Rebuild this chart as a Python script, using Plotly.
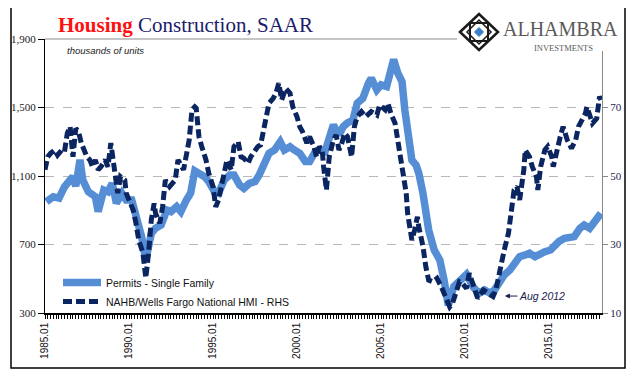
import plotly.graph_objects as go

# ---------------- data ----------------
permit_dates = [
    "1985-02", "1985-07", "1985-11", "1986-03", "1986-07", "1986-09", "1986-11", "1987-02",
    "1987-04", "1987-08", "1988-01", "1988-03", "1988-07", "1988-10", "1989-01", "1989-04",
    "1989-08", "1989-11", "1990-03", "1990-07", "1990-10", "1991-01", "1991-05", "1991-08",
    "1991-12", "1992-04", "1992-07", "1992-11", "1993-02", "1993-06", "1993-09", "1993-12",
    "1994-03", "1994-07", "1994-10", "1995-02", "1995-05", "1995-09", "1996-01", "1996-04",
    "1996-08", "1996-11", "1997-03", "1997-07", "1997-10", "1998-02", "1998-05", "1998-09",
    "1999-01", "1999-04", "1999-08", "1999-11", "2000-03", "2000-07", "2000-10", "2001-02",
    "2001-05", "2001-09", "2002-01", "2002-03", "2002-07", "2002-10", "2003-01", "2003-05",
    "2003-08", "2003-12", "2004-04", "2004-06", "2004-10", "2005-01", "2005-05", "2005-07",
    "2005-10", "2006-01", "2006-04", "2006-06", "2006-08", "2006-11", "2007-02", "2007-04",
    "2007-07", "2007-09", "2007-11", "2008-03", "2008-07", "2008-10", "2009-01", "2009-05",
    "2009-10", "2010-02", "2010-07", "2010-11", "2011-03", "2011-07", "2011-10", "2012-02",
    "2012-05", "2012-09", "2013-01", "2013-04", "2013-08", "2013-11", "2014-03", "2014-07",
    "2014-10", "2015-02", "2015-05", "2015-08", "2015-12", "2016-04", "2016-07", "2016-11",
    "2017-02", "2017-06", "2017-09", "2018-01", "2018-02",
]
permit_values = [
    950, 979, 971, 1037, 1077, 1096, 1040, 1195,
    1077, 1008, 979, 892, 1018, 1008, 1057, 941,
    999, 960, 960, 843, 746, 610, 765, 795,
    814, 901, 892, 921, 892, 960, 1000, 1130,
    1116, 1096, 1067, 1008, 999, 1077, 1106, 1106,
    1047, 1028, 1057, 1067, 1106, 1174, 1232, 1252,
    1300, 1252, 1271, 1252, 1232, 1184, 1184, 1242,
    1252, 1242, 1349, 1398, 1340, 1388, 1410, 1427,
    1525, 1554, 1641, 1671, 1603, 1632, 1622, 1700,
    1780, 1700, 1651, 1486, 1330, 1193, 1164, 1116,
    999, 882, 785, 668, 609, 493, 345, 454,
    500, 525, 450, 415, 434, 415, 434, 493,
    522, 551, 590, 629, 639, 649, 629, 649,
    658, 668, 697, 717, 736, 746, 746, 795,
    814, 795, 824, 872, 882,
]

hmi_dates = [
    "1985-01", "1985-03", "1985-05", "1985-08", "1985-10", "1986-01", "1986-03", "1986-05",
    "1986-07", "1986-08", "1986-09", "1986-11", "1987-01", "1987-03", "1987-04", "1987-07",
    "1987-09", "1987-11", "1988-01", "1988-03", "1988-05", "1988-08", "1988-10", "1988-12",
    "1989-01", "1989-03", "1989-05", "1989-07", "1989-10", "1989-11", "1990-01", "1990-04",
    "1990-06", "1990-08", "1990-11", "1991-01", "1991-03", "1991-05", "1991-07", "1991-08",
    "1991-11", "1992-01", "1992-03", "1992-06", "1992-10", "1992-12", "1993-04", "1993-06",
    "1993-08", "1993-10", "1993-12", "1994-01", "1994-03", "1994-05", "1994-08", "1994-10",
    "1995-01", "1995-03", "1995-05", "1995-07", "1995-09", "1995-11", "1996-02", "1996-04",
    "1996-07", "1996-09", "1996-11", "1997-02", "1997-04", "1997-07", "1997-09", "1997-11",
    "1998-01", "1998-03", "1998-05", "1998-08", "1998-10", "1998-12", "1999-02", "1999-05",
    "1999-08", "1999-10", "2000-01", "2000-03", "2000-05", "2000-08", "2000-10", "2001-01",
    "2001-03", "2001-05", "2001-07", "2001-08", "2001-10", "2001-12", "2002-03", "2002-05",
    "2002-07", "2002-09", "2002-11", "2003-01", "2003-04", "2003-06", "2003-08", "2003-11",
    "2004-02", "2004-06", "2004-10", "2004-12", "2005-04", "2005-06", "2005-08", "2005-11",
    "2006-01", "2006-03", "2006-05", "2006-07", "2006-08", "2006-10", "2006-11", "2007-01",
    "2007-03", "2007-04", "2007-07", "2007-09", "2007-11", "2008-02", "2008-05", "2008-08",
    "2008-11", "2009-02", "2009-04", "2009-07", "2009-09", "2009-11", "2010-02", "2010-04",
    "2010-07", "2010-09", "2010-10", "2011-02", "2011-05", "2011-09", "2011-11", "2012-02",
    "2012-04", "2012-05", "2012-08", "2012-10", "2012-12", "2013-02", "2013-04", "2013-07",
    "2013-08", "2013-11", "2014-01", "2014-04", "2014-05", "2014-07", "2014-10", "2014-12",
    "2015-03", "2015-04", "2015-07", "2015-09", "2015-11", "2016-02", "2016-05", "2016-08",
    "2016-10", "2016-12", "2017-03", "2017-04", "2017-07", "2017-08", "2017-11", "2018-01",
    "2018-02",
]
hmi_values = [
    51.8, 55.6, 56.6, 57.6, 56.1, 57.6, 57.1, 62.5,
    64.4, 59.6, 55.6, 63.9, 62.9, 59.6, 58.6, 55.6,
    54.7, 52.7, 54.7, 51.8, 52.7, 54.7, 52.7, 59.6,
    56.6, 50.8, 45.0, 49.8, 48.8, 45.0, 43.0, 40.1,
    36.2, 31.3, 27.4, 20.2, 27.4, 37.2, 42.0, 39.1,
    36.2, 41.0, 48.8, 46.9, 48.8, 54.7, 51.8, 55.6,
    60.5, 69.3, 70.2, 69.8, 61.5, 58.6, 54.7, 50.8,
    46.9, 41.0, 43.0, 46.9, 51.8, 54.7, 51.8, 58.6,
    60.0, 55.6, 55.2, 53.7, 55.6, 57.6, 58.6, 59.1,
    63.9, 68.3, 71.2, 72.7, 74.2, 77.1, 72.2, 75.6,
    74.2, 70.2, 67.3, 64.4, 62.9, 59.6, 61.5, 58.6,
    55.6, 58.6, 57.6, 52.7, 45.9, 55.6, 60.5, 62.0,
    57.6, 59.6, 62.5, 61.5, 55.6, 64.4, 67.3, 68.8,
    67.3, 68.8, 67.8, 70.7, 69.3, 71.2, 68.3, 65.4,
    60.5, 56.6, 50.8, 45.0, 39.1, 33.3, 31.3, 34.2,
    38.1, 35.2, 29.4, 23.5, 19.6, 19.1, 20.1, 17.7,
    14.8, 11.8, 12.8, 17.2, 19.1, 18.7, 17.2, 21.6,
    17.7, 14.8, 14.3, 16.7, 15.8, 14.8, 16.7, 23.5,
    26.4, 28.4, 33.3, 41.0, 45.9, 46.9, 43.0, 51.8,
    57.6, 55.6, 52.7, 49.8, 45.9, 52.7, 57.6, 58.6,
    55.6, 52.7, 58.6, 61.5, 64.4, 60.5, 58.1, 60.5,
    64.4, 65.9, 68.3, 70.2, 66.4, 65.4, 66.8, 73.2,
    72.2,
]

left_ticks = [300, 700, 1100, 1500, 1900]
left_tick_text = ["300", "700", "1,100", "1,500", "1,900"]
right_ticks = [10, 30, 50, 70]
right_tick_text = ["10", "30", "50", "70"]
x_tick_vals = ["1985-01-01", "1990-01-01", "1995-01-01", "2000-01-01",
               "2005-01-01", "2010-01-01", "2015-01-01"]
x_tick_text = ["1985.01", "1990.01", "1995.01", "2000.01", "2005.01", "2010.01", "2015.01"]

# ---------------- geometry (page pixels -> figure) ----------------
OFF = 8                      # the page body adds an 8px margin around the figure
W, H = 641 - 2 * OFF, 381 - 2 * OFF
L, R, T, B = 45 - OFF, 602 - OFF, 39 - OFF, 313 - OFF


def px(x):
    """page x pixel -> paper"""
    return (x - OFF - L) / (R - L)


def py(y):
    """page y pixel -> paper"""
    return (B - (y - OFF)) / (B - T)


PERMIT_COLOR = "#558ed5"
HMI_COLOR = "#0b2560"

fig = go.Figure()
fig.add_trace(go.Scatter(
    x=permit_dates, y=permit_values, mode="lines", name="Permits - Single Family",
    line=dict(color=PERMIT_COLOR, width=7.5), yaxis="y",
))
fig.add_trace(go.Scatter(
    x=hmi_dates, y=hmi_values, mode="lines", name="NAHB/Wells Fargo National HMI - RHS",
    line=dict(color=HMI_COLOR, width=5, dash="9px,4px"), yaxis="y2",
))

fig.update_layout(
    width=W, height=H,
    margin=dict(l=L, r=W - R, t=T, b=H - B, autoexpand=False),
    paper_bgcolor="white", plot_bgcolor="white",
    showlegend=True,
    legend=dict(
        x=px(58), y=py(268), xanchor="left", yanchor="top",
        bgcolor="rgba(0,0,0,0)", borderwidth=0,
        font=dict(family="Liberation Sans, Arial", size=10.5, color="#111"),
        tracegroupgap=0, itemwidth=38,
    ),
    xaxis=dict(
        type="date", range=["1985-01-01", "2018-02-24"],
        tickvals=x_tick_vals, ticktext=x_tick_text, tickangle=-90,
        ticks="outside", ticklen=4, tickcolor="black",
        minor=dict(dtick="M2", tick0="1985-01-01", ticks="outside", ticklen=4, tickcolor="black", showgrid=False),
        showline=True, linecolor="black", linewidth=1.5,
        showgrid=False, zeroline=False, automargin=False,
        tickfont=dict(family="Liberation Sans, Arial", size=10, color="#111"),
    ),
    yaxis=dict(
        range=[300, 1900], tickvals=left_ticks, ticktext=left_tick_text,
        ticks="outside", ticklen=6, tickcolor="black",
        showline=True, linecolor="black", linewidth=1,
        showgrid=True, gridcolor="#b8b8b8", griddash="dash", gridwidth=1,
        zeroline=False, automargin=False,
        tickfont=dict(family="Liberation Serif, Times New Roman", size=11, color="#222"),
    ),
    yaxis2=dict(
        range=[10, 90], tickvals=right_ticks, ticktext=right_tick_text,
        overlaying="y", side="right",
        ticks="outside", ticklen=5, tickcolor="#888",
        showline=True, linecolor="#888", linewidth=1.2,
        showgrid=False, zeroline=False, automargin=False,
        tickfont=dict(family="Liberation Serif, Times New Roman", size=11, color="#1c1c50"),
    ),
)

shapes = []
# top solid line of plot area
shapes.append(dict(type="line", xref="paper", yref="paper", x0=0, x1=1, y0=1, y1=1,
                   line=dict(color="#8c8c8c", width=1.2), layer="above"))
# white backdrop of the logo
shapes.append(dict(type="rect", xref="paper", yref="paper",
                   x0=px(457), x1=px(623), y0=py(51), y1=py(9),
                   fillcolor="white", line=dict(width=0), layer="above"))
# outer frame
shapes.append(dict(type="rect", xref="paper", yref="paper",
                   x0=px(11), x1=px(625), y0=py(368), y1=py(7),
                   line=dict(color="black", width=1.5), fillcolor="rgba(0,0,0,0)", layer="above"))


def diamond(cx, cy, hw, hh):
    return "M {} {} L {} {} L {} {} L {} {} Z".format(
        px(cx - hw), py(cy), px(cx), py(cy - hh), px(cx + hw), py(cy), px(cx), py(cy + hh))


def square(cx, cy, h):
    return "M {} {} L {} {} L {} {} L {} {} Z".format(
        px(cx - h), py(cy - h), px(cx + h), py(cy - h), px(cx + h), py(cy + h), px(cx - h), py(cy + h))


cx, cy = 479, 32
shapes.append(dict(type="path", xref="paper", yref="paper", path=diamond(cx, cy, 19, 18),
                   line=dict(color="#1a1a1a", width=2.5), layer="above"))
shapes.append(dict(type="path", xref="paper", yref="paper", path=square(cx, cy, 9),
                   line=dict(color="#1a1a1a", width=2), layer="above"))
shapes.append(dict(type="path", xref="paper", yref="paper", path=diamond(cx, cy, 12, 12),
                   line=dict(color="#1a1a1a", width=1.5), layer="above"))
shapes.append(dict(type="path", xref="paper", yref="paper", path=diamond(cx, cy, 4.5, 4.5),
                   fillcolor="#3d7cc9", line=dict(color="#3d7cc9", width=1), layer="above"))
fig.update_layout(shapes=shapes)

annotations = [
    dict(xref="paper", yref="paper", x=px(185), y=py(25), xanchor="center", yanchor="middle",
         showarrow=False,
         text="<b><span style='color:#ff1010'>Housing</span></b> <span style='color:#1c1c6c'>Construction, SAAR</span>",
         font=dict(family="Liberation Serif, Times New Roman", size=21)),
    dict(xref="paper", yref="paper", x=px(65), y=py(50), xanchor="left", yanchor="middle",
         showarrow=False, text="<i>thousands of units</i>",
         font=dict(family="Liberation Sans, Arial", size=9.5, color="#222")),
    dict(xref="paper", yref="paper", x=px(501), y=py(28.5), xanchor="left", yanchor="middle",
         showarrow=False, text="ALHAMBRA",
         font=dict(family="Liberation Serif, Times New Roman", size=20, color="#5a5a5a")),
    dict(xref="paper", yref="paper", x=px(563), y=py(47.5), xanchor="center", yanchor="middle",
         showarrow=False, text="INVESTMENTS",
         font=dict(family="Liberation Serif, Times New Roman", size=8.5, color="#5a5a5a")),
    dict(x="2012-05-15", y=399, xref="x", yref="y", text="<i>Aug 2012</i>",
         showarrow=True, arrowhead=2, arrowsize=1, arrowwidth=1, arrowcolor="#1c1c50",
         ax=37, ay=0, font=dict(family="Liberation Sans, Arial", size=10.5, color="#1c1c50")),
]
fig.update_layout(annotations=annotations)

fig.write_html("out.html")
